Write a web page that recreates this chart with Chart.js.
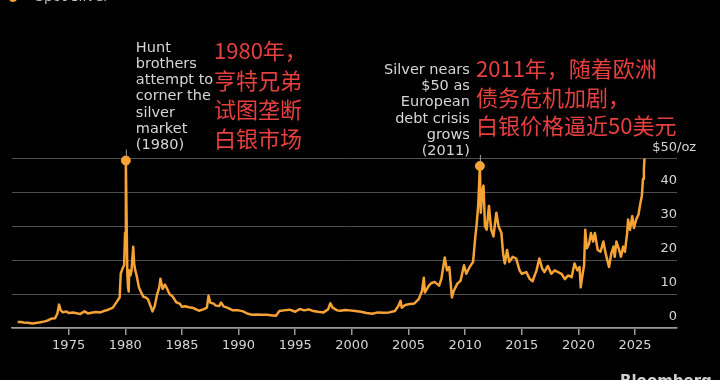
<!DOCTYPE html>
<html>
<head>
<meta charset="utf-8">
<script src="https://cdn.jsdelivr.net/npm/chart.js@4.4.1/dist/chart.umd.min.js"></script>
<style>
  html, body { margin: 0; padding: 0; background: #000; }
  canvas { display: block; }
</style>
</head>
<body>
<canvas id="c" width="720" height="380"></canvas>
<script>
// ---- Data (spot silver, USD per ounce) ----
const years = [
  1970.5, 1970.8, 1971.0, 1971.4, 1971.8, 1972.1, 1972.5, 1972.9, 1973.2, 1973.5, 1973.8,
  1974.0, 1974.15, 1974.3, 1974.5, 1974.8, 1975.0, 1975.4, 1975.8, 1976.0, 1976.4, 1976.7,
  1977.0, 1977.4, 1977.8, 1978.1, 1978.5, 1978.9, 1979.2, 1979.5, 1979.6, 1979.75, 1979.9,
  1979.98, 1980.05, 1980.1, 1980.18, 1980.24, 1980.3, 1980.35, 1980.45, 1980.55, 1980.7,
  1980.78, 1980.88, 1981.0, 1981.2, 1981.4, 1981.6, 1981.8, 1982.0, 1982.2, 1982.4, 1982.6,
  1982.8, 1983.0, 1983.1, 1983.3, 1983.5, 1983.7, 1983.9, 1984.2, 1984.5, 1984.8, 1985.0,
  1985.3, 1985.6, 1985.9, 1986.2, 1986.5, 1986.9, 1987.2, 1987.35, 1987.5, 1987.8, 1988.0,
  1988.3, 1988.45, 1988.7, 1989.0, 1989.5, 1990.0, 1990.4, 1990.8, 1991.2, 1991.6, 1992.0,
  1992.5, 1993.0, 1993.3, 1993.6, 1994.0, 1994.5, 1995.0, 1995.4, 1995.8, 1996.2, 1996.6,
  1997.0, 1997.5, 1997.9, 1998.1, 1998.3, 1998.7, 1999.0, 1999.4, 1999.8, 2000.3, 2000.8,
  2001.3, 2001.8, 2002.3, 2002.8, 2003.3, 2003.8, 2004.1, 2004.3, 2004.4, 2004.7, 2005.0,
  2005.5, 2005.9, 2006.2, 2006.35, 2006.45, 2006.8, 2007.0, 2007.3, 2007.7, 2007.9, 2008.2,
  2008.4, 2008.6, 2008.83, 2009.0, 2009.3, 2009.6, 2009.9, 2010.1, 2010.4, 2010.7, 2010.9,
  2011.0, 2011.15, 2011.3, 2011.38, 2011.5, 2011.62, 2011.75, 2011.9, 2012.1, 2012.3, 2012.5,
  2012.75, 2012.95, 2013.2, 2013.35, 2013.5, 2013.7, 2013.9, 2014.2, 2014.5, 2014.8, 2015.0,
  2015.4, 2015.7, 2015.95, 2016.3, 2016.55, 2016.8, 2017.0, 2017.3, 2017.6, 2017.9, 2018.2,
  2018.5, 2018.8, 2019.1, 2019.4, 2019.65, 2019.9, 2020.1, 2020.2, 2020.35, 2020.5, 2020.6,
  2020.75, 2020.95, 2021.1, 2021.3, 2021.45, 2021.7, 2021.95, 2022.2, 2022.4, 2022.7, 2022.9,
  2023.1, 2023.2, 2023.35, 2023.6, 2023.75, 2023.95, 2024.1, 2024.3, 2024.38, 2024.55, 2024.75,
  2024.9, 2025.1, 2025.3, 2025.45, 2025.6, 2025.7, 2025.78, 2025.83
];
const prices = [
  1.8, 1.75, 1.6, 1.55, 1.35, 1.5, 1.7, 1.95, 2.3, 2.8, 2.9,
  4.2, 6.9, 5.2, 4.6, 4.9, 4.4, 4.6, 4.3, 4.1, 4.9, 4.3,
  4.5, 4.7, 4.6, 5.0, 5.4, 6.0, 7.5, 9.0, 16.0, 17.5, 18.5,
  28.0, 49.4, 36.0, 16.0, 12.0, 10.8, 17.0, 15.5, 17.0, 24.0,
  19.0, 17.0, 15.5, 12.0, 10.5, 9.2, 9.0, 8.5, 6.7, 4.9, 6.5,
  9.8, 12.0, 14.5, 11.5, 12.8, 11.5, 10.0, 9.2, 7.6, 7.2, 6.3,
  6.4, 6.1, 6.0, 5.6, 5.1, 5.5, 6.0, 9.5, 7.5, 7.2, 6.6,
  6.5, 7.5, 6.3, 6.0, 5.2, 5.2, 4.9, 4.2, 3.9, 4.0, 3.9,
  3.9, 3.7, 3.6, 5.0, 5.2, 5.4, 4.8, 5.6, 5.2, 5.5, 5.0,
  4.8, 4.6, 5.5, 7.3, 6.0, 5.2, 5.1, 5.3, 5.2, 5.0, 4.8,
  4.4, 4.2, 4.6, 4.5, 4.6, 5.0, 6.5, 8.0, 6.0, 6.8, 7.0,
  7.2, 8.5, 11.0, 14.8, 10.5, 12.5, 13.2, 13.6, 12.5, 14.5, 20.8,
  17.0, 18.0, 9.0, 11.0, 13.0, 14.0, 18.5, 16.0, 18.0, 19.5, 27.0,
  30.0, 36.0, 47.8, 34.0, 40.0, 42.0, 30.0, 29.0, 36.0, 29.0, 27.0,
  34.0, 30.0, 28.0, 22.0, 19.0, 23.0, 19.5, 21.0, 20.5, 17.0, 16.0,
  16.5, 14.5, 13.8, 17.0, 20.5, 17.5, 16.5, 18.3, 16.0, 17.0, 16.5,
  16.0, 14.4, 15.5, 15.0, 19.0, 17.0, 18.0, 12.0, 15.5, 18.5, 29.0,
  23.5, 25.0, 28.0, 25.5, 28.0, 23.0, 22.5, 25.5, 22.0, 18.0, 22.0,
  24.0, 21.0, 25.5, 23.0, 21.0, 24.0, 22.5, 28.0, 32.0, 29.0, 33.0,
  29.5, 32.0, 33.5, 36.5, 39.0, 44.0, 47.0, 50.0
];
const xTickYears = [1975, 1980, 1985, 1990, 1995, 2000, 2005, 2010, 2015, 2020, 2025];
const yTickValues = [0, 10, 20, 30, 40, 50];
const yUnit = '$';
const yUnitSuffix = '/oz';
const eventYears = [1980.05, 2011.3];
const eventPrices = [49.4, 47.8];
const note1980 = ['Hunt', 'brothers', 'attempt to', 'corner the', 'silver', 'market', '(1980)'];
const note2011 = ['Silver nears', '$50 as', 'European', 'debt crisis', 'grows', '(2011)'];
const cn1980 = ['1980年，', '亨特兄弟', '试图垄断', '白银市场'];
const cn2011 = ['2011年，随着欧洲', '债务危机加剧，', '白银价格逼近50美元'];
const seriesName = 'Spot silver';
const sourceName = 'Bloomberg';

// ---- Styles ----
const ORANGE = '#f6a234';
const TEXT = '#d6d6d6';
const RED = '#e6403f';
const FONT = '"DejaVu Sans", sans-serif';
const CJK = '"Noto Sans CJK SC", sans-serif';

const lineData = years.map((x, i) => ({ x, y: prices[i] }));
const eventData = eventYears.map((x, i) => ({ x, y: eventPrices[i] }));

const overlay = {
  id: 'overlay',
  afterDraw(chart) {
    const ctx = chart.ctx;
    const xs = chart.scales.x, ys = chart.scales.y;
    const area = chart.chartArea;
    ctx.save();

    // y tick labels (sitting above their gridlines, right-aligned)
    ctx.font = '13px ' + FONT;
    ctx.fillStyle = TEXT;
    ctx.textBaseline = 'alphabetic';
    yTickValues.forEach(v => {
      const py = ys.getPixelForValue(v) - 8;
      const top = v === yTickValues[yTickValues.length - 1];
      ctx.textAlign = 'right';
      ctx.fillText((top ? yUnit : '') + v, area.right, py);
      if (top) { ctx.textAlign = 'left'; ctx.fillText(yUnitSuffix, area.right, py); }
    });

    // stems above event dots
    ctx.strokeStyle = '#a0a0a0';
    ctx.lineWidth = 1;
    eventYears.forEach((ex, i) => {
      const px = xs.getPixelForValue(ex), py = ys.getPixelForValue(eventPrices[i]);
      ctx.beginPath();
      ctx.moveTo(px + 0.5, py - 4);
      ctx.lineTo(px + 0.5, py - 11);
      ctx.stroke();
    });

    // English annotations
    ctx.font = '14.5px ' + FONT;
    ctx.fillStyle = TEXT;
    ctx.textBaseline = 'middle';
    const x1980 = xs.getPixelForValue(eventYears[0]);
    ctx.textAlign = 'left';
    note1980.forEach((t, i) => ctx.fillText(t, x1980 + 10, 48 + i * 16.2));
    const x2011 = xs.getPixelForValue(eventYears[1]);
    ctx.textAlign = 'right';
    note2011.forEach((t, i) => ctx.fillText(t, x2011 - 10, 70 + i * 16.3));

    // Chinese overlay captions
    ctx.font = '22px ' + CJK;
    ctx.fillStyle = RED;
    ctx.textAlign = 'left';
    cn1980.forEach((t, i) => ctx.fillText(t, 214, 51 + i * 29.2));
    cn2011.forEach((t, i) => ctx.fillText(t, 476, 69 + i * 28.5));

    // legend (cut off at top)
    ctx.fillStyle = ORANGE;
    ctx.beginPath(); ctx.arc(13, -2, 4, 0, Math.PI * 2); ctx.fill();
    ctx.fillStyle = '#bdbdbd';
    ctx.font = '14px ' + FONT;
    ctx.textBaseline = 'alphabetic';
    ctx.fillText(seriesName, 35, 0.5);

    // source (cut off at bottom)
    ctx.font = 'bold 15px ' + FONT;
    ctx.fillStyle = '#cfcfcf';
    ctx.textBaseline = 'top';
    ctx.fillText(sourceName, 620, 375);

    ctx.restore();
  }
};

new Chart(document.getElementById('c'), {
  data: {
    datasets: [
      {
        type: 'line', label: seriesName, data: lineData,
        borderColor: ORANGE, borderWidth: 2.5, pointRadius: 0, tension: 0,
        borderJoinStyle: 'round', clip: false, order: 2
      },
      {
        type: 'scatter', label: 'events', data: eventData,
        backgroundColor: ORANGE, borderColor: ORANGE, pointRadius: 4.5,
        clip: false, order: 1
      }
    ]
  },
  options: {
    responsive: false,
    animation: false,
    devicePixelRatio: 1,
    layout: { padding: { left: 12, right: 43, top: 158.5, bottom: 0 } },
    plugins: { legend: { display: false }, tooltip: { enabled: false } },
    scales: {
      x: {
        type: 'linear', min: 1970, max: 2028.7,
        afterBuildTicks: s => { s.ticks = xTickYears.map(v => ({ value: v })); },
        afterFit: s => { s.height = 52; },
        ticks: {
          autoSkip: false, maxRotation: 0, color: TEXT, padding: 3,
          font: { family: FONT, size: 13 },
          callback: v => String(v)
        },
        grid: { drawOnChartArea: false, drawTicks: true, tickLength: 7, color: '#9a9a9a', lineWidth: 1.5 },
        border: { display: true, color: '#9a9a9a', width: 1.5 }
      },
      y: {
        type: 'linear', position: 'right', min: 0, max: 50,
        afterBuildTicks: s => { s.ticks = yTickValues.map(v => ({ value: v })); },
        afterFit: s => { s.width = 0; },
        ticks: { display: false },
        grid: { color: '#4e4e4e', lineWidth: 1, drawTicks: false },
        border: { display: false }
      }
    }
  },
  plugins: [overlay]
});
</script>
</body>
</html>
